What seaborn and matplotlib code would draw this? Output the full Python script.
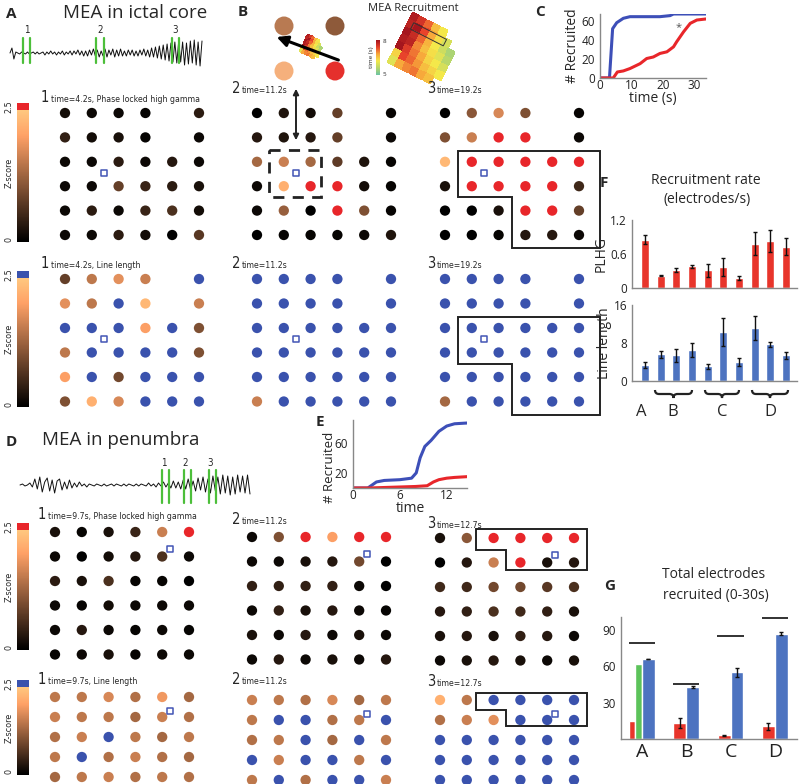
import numpy as np
import matplotlib
matplotlib.use('Agg')
import matplotlib.pyplot as plt
import seaborn as sns
from matplotlib.colors import LinearSegmentedColormap
from matplotlib.patches import Rectangle, Polygon, Circle
from matplotlib.path import Path
from matplotlib.patches import PathPatch
from matplotlib.transforms import Affine2D

nan = None

# ---------------- data ----------------
# z-scores of each electrode (None = no electrode, 3 = above threshold)
a_plhg_1 = [[0.15, 0.1, 0.1, 0.05, nan, 0.35],
            [0.4, 0.15, 0.2, 0.05, nan, 0.1],
            [0.1, 0.1, 0.35, 0.1, 0.3, 0.1],
            [0.1, 0.1, 0.8, 0.45, 0.35, 0.2],
            [0.1, 0.35, 0.1, 0.45, 0.6, 0.15],
            [0.1, 0.1, 0.35, 0.15, 0.0, 0.7]]
a_plhg_2 = [[0.0, 0.25, 0.15, 0.8, nan, 0.05],
            [0.3, 0.25, 0.3, 0.8, nan, 0.1],
            [1.3, 1.6, 1.3, 0.75, 0.25, 0.05],
            [0.1, 2.2, 3, 3, 0.15, 0.05],
            [0.1, 1.2, 0.0, 3, 1.0, 0.05],
            [0.0, 0.05, 0.05, 0.05, 0.1, 0.25]]
a_plhg_3 = [[0.0, 1.1, 1.7, 1.0, nan, 0.05],
            [1.0, 1.6, 3, 3, nan, 0.1],
            [2.3, 3, 3, 3, 3, 3],
            [0.2, 3, 3, 3, 3, 0.5],
            [0.0, 0.0, 0.2, 3, 3, 0.8],
            [0.0, 0.0, 0.05, 0.3, 0.3, 0.1]]
a_ll_1 = [[0.8, 1.5, 1.8, 1.6, nan, 3],
          [1.8, 1.5, 3, 2.3, nan, 1.6],
          [3, 3, 3, 2.0, 3, 1.0],
          [1.5, 3, 3, 3, 3, 1.0],
          [2.0, 3, 0.9, 3, 3, 3],
          [1.0, 2.2, 1.7, 3, 3, 3]]
a_ll_2 = [[3, 3, 3, 3, nan, 3],
          [3, 3, 3, 3, nan, 3],
          [3, 3, 3, 3, 3, 3],
          [3, 3, 3, 3, 3, 3],
          [3, 3, 3, 3, 3, 3],
          [1.6, 3, 3, 3, 3, 3]]
a_ll_3 = [[3, 3, 3, 3, nan, 3],
          [3, 3, 3, 3, nan, 3],
          [3, 3, 3, 3, 3, 3],
          [3, 3, 3, 3, 3, 3],
          [3, 3, 3, 3, 3, 3],
          [1.3, 3, 3, 3, 3, 3]]
d_plhg_1 = [[0.2, 0.05, 0.2, 0.45, 1.6, 3],
            [0.1, 0.0, 0.15, 0.3, 0.6, 0.1],
            [0.35, 0.2, 0.6, 0.05, 0.05, 0.0],
            [0.1, 0.05, 0.15, 0.1, 0.1, 0.1],
            [0.1, 0.3, 0.1, 0.05, 0.1, 0.05],
            [0.05, 0.1, 0.2, 0.05, 0.1, 0.1]]
d_plhg_2 = [[0.1, 1.0, 3, 2.0, 3, 3],
            [0.1, 0.1, 0.2, 0.3, 0.9, 0.0],
            [0.4, 0.4, 0.4, 0.4, 0.1, 0.0],
            [0.1, 0.4, 0.2, 0.3, 0.1, 0.05],
            [0.2, 0.1, 0.3, 0.1, 0.2, 0.1],
            [0.1, 0.3, 0.1, 0.2, 0.1, 0.3]]
d_plhg_3 = [[0.2, 1.1, 3, 3, 3, 3],
            [0.0, 0.3, 1.6, 3, 0.2, 0.3],
            [0.5, 0.5, 0.9, 0.9, 0.7, 0.6],
            [0.3, 0.4, 0.6, 0.5, 0.4, 0.2],
            [0.2, 0.3, 0.2, 0.4, 0.3, 0.1],
            [0.1, 0.2, 0.3, 0.2, 0.1, 0.2]]
d_ll_1 = [[1.5, 1.5, 1.7, 1.4, 1.9, 1.3],
          [1.6, 1.5, 1.5, 1.3, 1.6, 1.4],
          [1.4, 1.6, 3, 1.5, 1.3, 1.5],
          [1.5, 3, 1.4, 1.6, 1.4, 1.3],
          [1.3, 1.5, 1.6, 1.4, 1.5, 1.4],
          [1.4, 1.3, 1.5, 1.6, 1.5, 1.3]]
d_ll_2 = [[1.6, 1.5, 1.4, 1.7, 1.3, 1.5],
          [1.5, 3, 3, 1.4, 1.5, 3],
          [1.4, 1.5, 3, 1.3, 3, 1.5],
          [3, 1.6, 3, 3, 1.5, 3],
          [1.5, 3, 1.4, 3, 3, 1.6],
          [3, 1.5, 3, 3, 1.4, 3]]
d_ll_3 = [[2.2, 1.5, 3, 3, 3, 3],
          [1.4, 1.6, 1.8, 3, 3, 3],
          [3, 3, 3, 3, 3, 3],
          [3, 3, 3, 3, 3, 3],
          [3, 3, 3, 3, 3, 3],
          [3, 3, 3, 3, 3, 3]]

# recruitment time map (s) in panel B
rec_times = [[7.9, 7.6, 7.2, 6.6, 6.2, nan, nan],
             [7.8, 8.0, 7.4, 6.8, 6.3, 5.9, nan],
             [8.0, 7.7, 7.2, 6.7, 6.2, 5.8, 5.5],
             [7.9, 7.8, 7.0, 6.6, 6.3, 6.0, 5.6],
             [8.0, 7.5, 7.1, 6.8, 6.4, 6.2, 5.9],
             [6.4, 7.4, 7.2, 6.9, 6.6, 6.4, 6.2],
             [6.0, 6.8, 7.0, 7.1, 6.8, 6.6, nan]]

# panel C: number recruited vs time
c_ll_t = [0, 3.0, 4.0, 5.3, 7.4, 9.5, 19, 22.2, 23.3, 33.6]
c_ll_n = [0, 0, 51.6, 57.9, 62.5, 64.2, 64.2, 65.3, 67, 67]
c_pl_t = [0, 4.2, 5.5, 7.4, 9.5, 12.7, 14.8, 16.9, 19, 21.2, 23.3, 24.3, 26.5, 28.6, 30.7, 33.6]
c_pl_n = [0, 0, 6.3, 7.4, 9.9, 15, 20.4, 22, 25.7, 27.4, 32.6, 37.9, 48.4, 57.2, 60.7, 61.8]

# panel E
e_ll_t = [0, 1.9, 3.0, 4, 6, 7.5, 8.1, 8.6, 9.2, 10, 11, 12, 13, 14.6]
e_ll_n = [0, 0, 8, 10, 11, 13, 20, 40, 55, 63, 75, 82, 85, 86]
e_pl_t = [0, 2, 5, 8, 9.5, 10.3, 11, 12, 13, 14.6]
e_pl_n = [0, 0, 1, 2, 3, 8, 11, 13, 14, 15]

# panel F: recruitment rate (electrodes/s)
f_plhg = [0.85, 0.22, 0.32, 0.38, 0.31, 0.37, 0.18, 0.78, 0.83, 0.73]
f_plhg_err = [0.08, 0.01, 0.03, 0.02, 0.12, 0.16, 0.03, 0.2, 0.2, 0.15]
f_ll = [3.3, 5.6, 5.4, 6.5, 3.1, 10.3, 4.0, 11.1, 7.7, 5.4]
f_ll_err = [0.6, 0.8, 1.3, 1.5, 0.5, 3.0, 0.8, 2.5, 0.5, 0.8]
f_groups = ['A', 'B', 'C', 'D']

# panel G: total electrodes recruited (0-30s)
g_groups = ['A', 'B', 'C', 'D']
g_plhg = [15, 13, 3, 10.5]
g_plhg_err = [0, 4, 0.5, 3]
g_ll = [66, 43, 55, 87]
g_ll_err = [0, 0.5, 4, 1.5]
g_a_green = 62
g_total = [79, 45, 85, 100]

# EEG traces (arbitrary units)
trace_a = [0, 5, -6, 1, 0, -1, 1, 0, -1, 1, -1, 0, 1, -1, 1, -1, 0, 1, -2, 1, -1, 2, -1, 1,
           -2, 1, -1, 2, -2, 1, -1, 2, -2, 2, -1, 3, -2, 2, -3, 2, -3, 3, -2, 4, -3, 3, -4, 2,
           -3, 4, -4, 3, -2, 4, -4, 3, -3, 4, -3, 2, -3, 3, -2, 3, -3, 2, -3, 3, -2, 4, -3, 3,
           -4, 5, -4, 6, -5, 7, -6, 8, -7, 9, -8, 10, -9, 11, -10, 12, -9, 11, -12, 10, -11,
           12, -10, 13, -12, 11, -13, 12]
trace_d = [0, 1, -1, 0, 2, -2, 6, -4, 8, -7, 3, 7, -6, 5, -8, 4, 6, -5, 3, -4, 5, -3, 2, -2,
           3, -1, 1, -2, 1, 0, -1, 1, 0, -1, 1, -1, 0, 1, -1, 1, 0, -1, 1, -1, 1, 0, -1, 1, -1,
           1, 0, -1, 2, -1, 1, -2, 2, -1, 3, -2, 2, -3, 4, -3, 3, -4, 5, -4, 6, -5, 4, -6, 7,
           -5, 8, -7, 6, -8, 9, -6, 8, -9, 10, -8, 9, -10, 8, -9, 10, -7, 9, -8, 10, -9]

# ---------------- style ----------------
sns.set_theme(style='white')
plt.rcParams['font.family'] = ['Open Sans', 'DejaVu Sans']
narrow = dict(family='DejaVu Sans', fontstretch='condensed')
RED = '#e8262a'
BLUE = '#3a52ad'
BAR_RED = '#e8352b'
BAR_BLUE = '#4d73c0'
GREEN_T = '#5cc35a'
zcmap = plt.get_cmap('copper')
tcmap = LinearSegmentedColormap.from_list(
    'rec', ['#6ec4a2', '#b9d76a', '#f4e84a', '#f7a93b', '#e8432b', '#a5161e'])

W, H = 800, 784
fig = plt.figure(figsize=(8, 7.84), dpi=100)


def px_axes(x0, y0, x1, y1):
    return fig.add_axes([x0 / W, 1 - y1 / H, (x1 - x0) / W, (y1 - y0) / H])


canvas = px_axes(0, 0, W, H)
canvas.set_xlim(0, W)
canvas.set_ylim(H, 0)
canvas.axis('off')


def draw_grid(x0, y0, z, hi, sq, dx=26.8, dy=24.4, poly=None, box=None):
    ax = px_axes(x0 - 0.5 * dx, y0 - 0.5 * dy, x0 + 6.0 * dx, y0 + 5.8 * dy)
    ax.set_xlim(-0.5, 6.0)
    ax.set_ylim(5.8, -0.5)
    ax.axis('off')
    z = np.array(z, dtype=float)
    rows, cols = np.nonzero(~np.isnan(z))
    vals = z[rows, cols]
    colors = [hi if v > 2.5 else zcmap(v / 2.5) for v in vals]
    ax.scatter(cols, rows, s=55, c=colors, linewidths=0, clip_on=False)
    ax.scatter([sq[0]], [sq[1]], marker='s', s=20, facecolors='white',
               edgecolors='#4255b5', linewidths=1.1, clip_on=False)
    if poly is not None:
        ax.add_patch(Polygon(poly, closed=True, fill=False, ec='#222222', lw=1.4, clip_on=False))
    if box is not None:
        ax.add_patch(Rectangle(box[:2], box[2], box[3], fill=False, ec='#222222', lw=2,
                               ls=(0, (4, 3)), clip_on=False))
    return ax


def grid_label(x, y, num, text):
    canvas.text(x, y, num, fontsize=10.5, va='baseline', **narrow)
    canvas.text(x + 10, y, text, fontsize=6.2, va='baseline', **narrow)


def zbar(y_top, y_bot, cap):
    canvas.add_patch(Rectangle((17, y_top), 12, 7, color=cap, lw=0))
    grad = np.linspace(0, 1, 100).reshape(-1, 1)
    canvas.imshow(grad, cmap=zcmap, extent=(17, 29, y_bot, y_top + 7), origin='lower', aspect='auto')
    canvas.text(9, y_top + 4, '2.5', rotation=90, fontsize=6.5, ha='center', va='center', **narrow)
    canvas.text(9, y_bot - 3, '0', rotation=90, fontsize=6.5, ha='center', va='center', **narrow)
    canvas.text(9, (y_top + y_bot) / 2, 'Z-score', rotation=90, fontsize=6.5, ha='center', va='center',
                **narrow)


def trace(x0, x1, yc, amp, vals):
    canvas.plot(np.linspace(x0, x1, len(vals)), yc - amp * np.array(vals), color='#111111', lw=0.7)


step_poly = [(0.5, 1.55), (5.8, 1.55), (5.8, 5.55), (2.5, 5.55), (2.5, 3.45), (0.5, 3.45)]
d_poly = [(1.35, -0.35), (5.5, -0.35), (5.5, 1.3), (2.45, 1.3), (2.45, 0.5), (1.35, 0.5)]

# ---------------- panel A ----------------
canvas.text(6, 18, 'A', fontsize=11, fontweight='bold')
canvas.text(135, 13, 'MEA in ictal core', fontsize=13.5, ha='center', va='center')
trace(10, 202, 53, 1.0, trace_a)
for gx, lab in zip([(23, 30), (96, 104), (172, 179)], ['1', '2', '3']):
    for xx in gx:
        canvas.plot([xx, xx], [38, 63], color='#4cbf3a', lw=1.6)
    canvas.text(np.mean(gx), 33, lab, fontsize=7, ha='center', **narrow)

zbar(103, 242, RED)
zbar(271, 407, BLUE)
grid_label(41, 102, '1', 'time=4.2s, Phase locked high gamma')
grid_label(232, 93, '2', 'time=11.2s')
grid_label(427, 93, '3', 'time=19.2s')
draw_grid(65, 113, a_plhg_1, RED, (1.45, 2.45))
draw_grid(257, 113, a_plhg_2, RED, (1.45, 2.45), box=(0.45, 1.5, 1.95, 1.95))
draw_grid(445, 113, a_plhg_3, RED, (1.45, 2.45), poly=step_poly)
grid_label(41, 268, '1', 'time=4.2s, Line length')
grid_label(232, 268, '2', 'time=11.2s')
grid_label(427, 268, '3', 'time=19.2s')
draw_grid(65, 279, a_ll_1, BLUE, (1.45, 2.45), dy=24.5)
draw_grid(257, 279, a_ll_2, BLUE, (1.45, 2.45), dy=24.5)
draw_grid(445, 279, a_ll_3, BLUE, (1.45, 2.45), dy=24.5, poly=step_poly)
canvas.annotate('', xy=(296, 143), xytext=(296, 86),
                arrowprops=dict(arrowstyle='<|-|>', color='#222222', lw=1.4, mutation_scale=8))

# ---------------- panel B ----------------
canvas.text(238, 16, 'B', fontsize=11, fontweight='bold')
for (cx, cy), col in zip([(284, 26), (335, 26), (284, 71), (335, 71)],
                         ['#b87a52', '#8e5a3a', '#f5b07c', '#e5302c']):
    canvas.add_patch(Circle((cx, cy), 9.5, color=col, lw=0))
tz = np.ma.masked_invalid(np.array(rec_times, dtype=float))
for cx, cy, cell, ang in [(425, 50, 8.0, 27), (312, 47, 2.8, 27)]:
    n = tz.shape[0]
    gx, gy = np.meshgrid(np.arange(n + 1) * cell, np.arange(n + 1) * cell)
    tr = Affine2D().translate(-n * cell / 2, -n * cell / 2).rotate_deg(ang).translate(cx, cy)
    canvas.pcolormesh(gx, gy, tz, cmap=tcmap, vmin=5, vmax=8, transform=tr + canvas.transData)
    if cell > 5:
        canvas.add_patch(Rectangle((0.7 * cell, 1.1 * cell), 4.6 * cell, 0.9 * cell, fill=False,
                                   ec='#333333', lw=0.7, transform=tr + canvas.transData))
canvas.annotate('', xy=(274, 36), xytext=(341, 61),
                arrowprops=dict(arrowstyle='-|>', color='black', lw=2.2, mutation_scale=16))
canvas.text(413, 8, 'MEA Recruitment', fontsize=8, ha='center', va='center')
grad = np.linspace(5, 8, 50).reshape(-1, 1)
canvas.imshow(grad, cmap=tcmap, extent=(376, 379.5, 75, 40), origin='lower', aspect='auto')
canvas.text(383, 41, '8', fontsize=4.5, ha='left', va='center')
canvas.text(383, 74, '5', fontsize=4.5, ha='left', va='center')
canvas.text(372, 57, 'time (s)', fontsize=4.5, rotation=90, ha='center', va='center')

# ---------------- panel C ----------------
canvas.text(535, 16, 'C', fontsize=11, fontweight='bold')
axc = px_axes(600, 14, 706, 78)
sns.lineplot(x=c_ll_t, y=c_ll_n, ax=axc, color='#3d4fb8', lw=2.2, estimator=None, sort=False)
sns.lineplot(x=c_pl_t, y=c_pl_n, ax=axc, color=RED, lw=2.2, estimator=None, sort=False)
axc.text(25, 53, '*', fontsize=8, color='#555555', ha='center', va='center')
axc.set_xlim(0, 33.6)
axc.set_ylim(0, 67)
axc.set_xticks([0, 10, 20, 30])
axc.set_yticks([0, 20, 40, 60])
axc.set_xlabel('time (s)', fontsize=10, labelpad=-1)
axc.set_ylabel('# Recruited', fontsize=10, labelpad=1)

# ---------------- panel D ----------------
canvas.text(6, 446, 'D', fontsize=11, fontweight='bold')
canvas.text(42, 440, 'MEA in penumbra', fontsize=13.5, ha='left', va='center')
trace(20, 250, 485, 1.0, trace_d)
for gx, lab in zip([(162, 169), (184, 191), (209, 216)], ['1', '2', '3']):
    for xx in gx:
        canvas.plot([xx, xx], [470, 503], color='#4cbf3a', lw=1.6)
    canvas.text(np.mean(gx) - 2, 466, lab, fontsize=7, ha='center', **narrow)

zbar(523, 650, RED)
zbar(680, 775, BLUE)
grid_label(38, 519, '1', 'time=9.7s, Phase locked high gamma')
grid_label(232, 524, '2', 'time=11.2s')
grid_label(427, 528, '3', 'time=12.7s')
draw_grid(55, 532, d_plhg_1, RED, (4.3, 0.7), dy=24.5)
draw_grid(252, 537, d_plhg_2, RED, (4.3, 0.7), dy=24.5)
draw_grid(440, 538, d_plhg_3, RED, (4.3, 0.7), dy=24.5, poly=d_poly)
grid_label(38, 684, '1', 'time=9.7s, Line length')
grid_label(232, 684, '2', 'time=11.2s')
grid_label(427, 686, '3', 'time=12.7s')
draw_grid(55, 697, d_ll_1, BLUE, (4.3, 0.7), dy=20)
draw_grid(252, 700, d_ll_2, BLUE, (4.3, 0.7), dy=20)
draw_grid(440, 700, d_ll_3, BLUE, (4.3, 0.7), dy=20, poly=d_poly)

# ---------------- panel E ----------------
canvas.text(316, 426, 'E', fontsize=11, fontweight='bold')
axe = px_axes(353, 420, 467, 488)
sns.lineplot(x=e_ll_t, y=e_ll_n, ax=axe, color='#3d4fb8', lw=2.2, estimator=None, sort=False)
sns.lineplot(x=e_pl_t, y=e_pl_n, ax=axe, color=RED, lw=2.2, estimator=None, sort=False)
axe.set_xlim(0, 14.6)
axe.set_ylim(0, 90)
axe.set_xticks([0, 6, 12])
axe.set_yticks([20, 60])
axe.set_xlabel('time', fontsize=10, labelpad=-1)
axe.set_ylabel('# Recruited', fontsize=9.5, labelpad=1)
axe.yaxis.set_label_coords(-0.15, 0.3)

# ---------------- panel F ----------------
canvas.text(600, 187, 'F', fontsize=11, fontweight='bold')
canvas.text(706, 180, 'Recruitment rate', fontsize=10, ha='center', va='center')
canvas.text(707, 199, '(electrodes/s)', fontsize=10, ha='center', va='center')
xs = np.arange(10)
axf1 = px_axes(632, 220, 797, 288)
axf1.bar(xs, f_plhg, width=0.52, color=BAR_RED, yerr=f_plhg_err, capsize=1.5,
         error_kw=dict(lw=1, ecolor='#111111'))
axf1.set_ylim(0, 1.2)
axf1.set_yticks([0, 0.6, 1.2])
axf1.set_yticklabels(['0', '0.6', '1.2'])
axf1.set_ylabel('PLHG', fontsize=10, labelpad=1)
axf2 = px_axes(632, 305, 797, 381)
axf2.bar(xs, f_ll, width=0.52, color=BAR_BLUE, yerr=f_ll_err, capsize=1.5,
         error_kw=dict(lw=1, ecolor='#111111'))
axf2.set_ylim(0, 16)
axf2.set_yticks([0, 8, 16])
axf2.set_ylabel('Line length', fontsize=10, labelpad=1)
for ax in (axf1, axf2):
    ax.set_xlim(-0.83, 9.7)
    ax.set_xticks(xs[:-1] + 0.5)
    ax.set_xticklabels([])

for x1, x2 in [(655, 692), (705, 739), (752, 788)]:
    xm = (x1 + x2) / 2
    y0, d = 390, 4
    verts = [(x1, y0), (x1, y0 + d), (x1 + d, y0 + d), (xm - d, y0 + d), (xm, y0 + d), (xm, y0 + 2 * d),
             (xm, y0 + d), (xm + d, y0 + d), (x2 - d, y0 + d), (x2, y0 + d), (x2, y0)]
    codes = [Path.MOVETO, Path.CURVE3, Path.CURVE3, Path.LINETO, Path.CURVE3, Path.CURVE3,
             Path.CURVE3, Path.CURVE3, Path.LINETO, Path.CURVE3, Path.CURVE3]
    canvas.add_patch(PathPatch(Path(verts, codes), fill=False, lw=1.6, ec='#222222'))
for x, lab in zip([641, 673, 722, 770], f_groups):
    canvas.text(x, 412, lab, fontsize=12, ha='center', va='center')

# ---------------- panel G ----------------
canvas.text(604, 590, 'G', fontsize=11, fontweight='bold')
canvas.text(714, 575, 'Total electrodes', fontsize=10, ha='center', va='center')
canvas.text(716, 595, 'recruited (0-30s)', fontsize=10, ha='center', va='center')
axg = px_axes(621, 617, 797, 739)
gx = np.arange(4)
bw = 0.29
axg.bar(gx[1:] - bw / 2, g_plhg[1:], width=bw, color=BAR_RED, yerr=g_plhg_err[1:], capsize=1.5,
        error_kw=dict(lw=1, ecolor='#111111'))
axg.bar([-bw * 0.75], [g_plhg[0]], width=bw / 2, color=BAR_RED)
axg.bar([-bw * 0.25], [g_a_green], width=bw / 2, color=GREEN_T)
axg.bar(gx + bw / 2, g_ll, width=bw, color=BAR_BLUE, yerr=g_ll_err, capsize=1.5,
        error_kw=dict(lw=1, ecolor='#111111'))
axg.hlines(g_total, gx - 0.3, gx + 0.3, color='#222222', lw=1.3, clip_on=False)
axg.set_xlim(-0.47, 3.5)
axg.set_ylim(0, 100.7)
axg.set_yticks([30, 60, 90])
axg.set_xticks(gx)
axg.set_xticklabels(g_groups, fontsize=14)

for ax in (axc, axe, axf1, axf2, axg):
    sns.despine(ax=ax)
    for s in ('left', 'bottom'):
        ax.spines[s].set_color('#888888')
        ax.spines[s].set_linewidth(1)
    ax.tick_params(axis='both', labelsize=8.5, length=2.5, width=0.8, pad=1, colors='#222222')
    ax.tick_params(axis='x', direction='in')
axg.tick_params(axis='x', labelsize=14, length=0, pad=3)

fig.savefig('out.png', dpi=100)
